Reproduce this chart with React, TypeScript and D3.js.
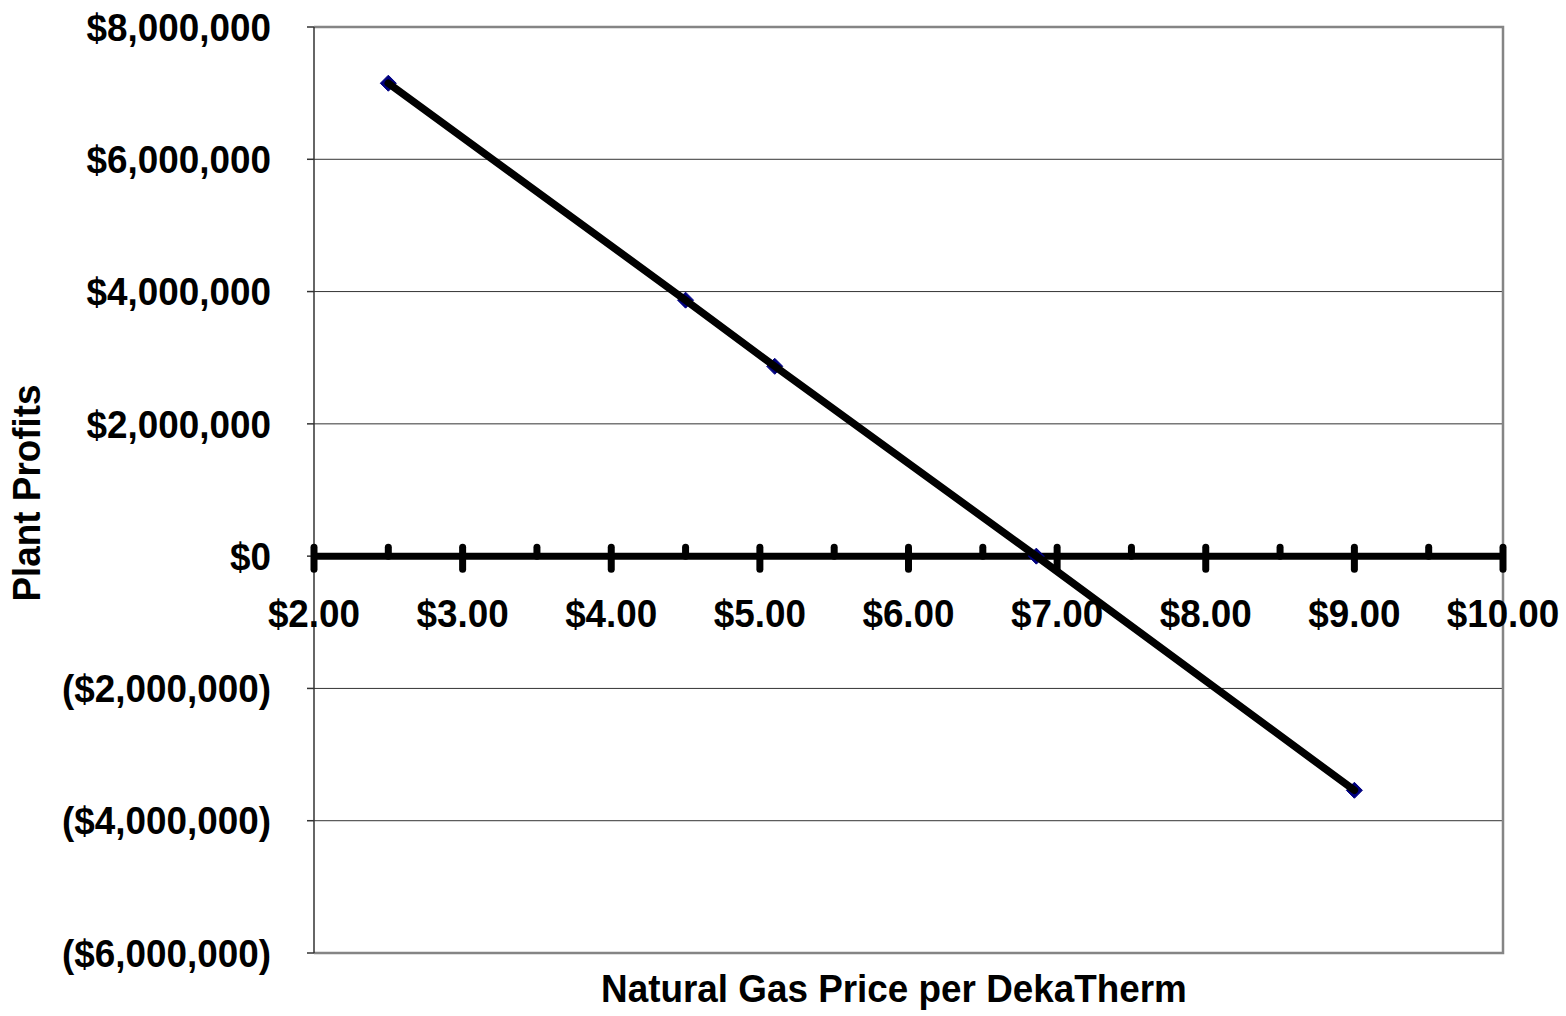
import React from "react";
import * as d3 from "d3";

const gasPrices = [2.5, 4.5, 5.1, 6.86, 9.0];
const plantProfits = [7150000, 3870000, 2870000, 0, -3540000];
const yTickValues = [-6000000, -4000000, -2000000, 0, 2000000, 4000000, 6000000, 8000000];
const xMajorTicks = [2, 3, 4, 5, 6, 7, 8, 9, 10];
const xMinorTicks = [2.5, 3.5, 4.5, 5.5, 6.5, 7.5, 8.5, 9.5];
const xTitle = "Natural Gas Price per DekaTherm";
const yTitle = "Plant Profits";

const W = 1566;
const H = 1016;
const L = 314, R = 1503, T = 27, B = 953;
const FONT = "'Liberation Sans', Arial, sans-serif";
const FS = 38;

const fmtMoney = (v: number) => {
  const s = "$" + d3.format(",")(Math.abs(v));
  return v < 0 ? "(" + s + ")" : s;
};

export default function App() {
  const x = d3.scaleLinear().domain([2, 10]).range([L, R]);
  const y = d3.scaleLinear().domain([-6000000, 8000000]).range([B, T]);
  const pts = gasPrices.map((g, i) => [x(g), y(plantProfits[i])] as [number, number]);
  const line = d3.line()(pts) || "";
  const y0 = y(0);
  const m = 8;

  return (
    <div style={{ position: "absolute", left: 0, top: 0 }}>
      <svg width={W} height={H} style={{ display: "block", background: "#fff" }}>
        {yTickValues.filter(v => v !== 0 && v !== -6000000).map(v => (
          <line key={"g" + v} x1={L} x2={R} y1={y(v)} y2={y(v)} stroke="#333" strokeWidth={1} />
        ))}
        <path d={`M${L},${T}H${R}V${B}H${L}`} fill="none" stroke="#858585" strokeWidth={2.5} />
        <line x1={L} x2={L} y1={T} y2={B} stroke="#333" strokeWidth={1.5} />
        {yTickValues.map(v => (
          <g key={"yt" + v}>
            <line x1={L - 7} x2={L} y1={y(v)} y2={y(v)} stroke="#333" strokeWidth={1.5} />
            <text x={271} y={y(v)} dy="0.36em" textAnchor="end" fontFamily={FONT} fontWeight="bold" fontSize={FS} fill="#000"
              transform={`translate(271,0) scale(0.97,1) translate(-271,0)`}>
              {fmtMoney(v)}
            </text>
          </g>
        ))}
        <line x1={L} x2={R} y1={y0} y2={y0} stroke="#000" strokeWidth={7} />
        {xMajorTicks.map(t => (
          <line key={"xm" + t} x1={x(t)} x2={x(t)} y1={y0 - 9} y2={y0 + 13} stroke="#000" strokeWidth={7} strokeLinecap="round" />
        ))}
        {xMinorTicks.map(t => (
          <line key={"xn" + t} x1={x(t)} x2={x(t)} y1={y0 - 9} y2={y0} stroke="#000" strokeWidth={7} strokeLinecap="round" />
        ))}
        {xMajorTicks.map(t => (
          <text key={"xl" + t} x={x(t)} y={627} textAnchor="middle" fontFamily={FONT} fontWeight="bold" fontSize={FS} fill="#000"
            transform={`translate(${x(t)},0) scale(0.97,1) translate(${-x(t)},0)`}>
            {"$" + d3.format(".2f")(t)}
          </text>
        ))}
        {pts.map(([px, py], i) => (
          <path key={"m" + i} d={`M${px},${py - m}L${px + m},${py}L${px},${py + m}L${px - m},${py}Z`} fill="#000080" stroke="#000080" strokeWidth={1} />
        ))}
        <path d={line} fill="none" stroke="#000" strokeWidth={7.5} strokeLinecap="round" strokeLinejoin="round" />
        <text x={894} y={1002} textAnchor="middle" fontFamily={FONT} fontWeight="bold" fontSize={FS} fill="#000"
          transform={`translate(894,0) scale(0.97,1) translate(-894,0)`}>{xTitle}</text>
        <text transform="translate(40,493) rotate(-90) scale(0.97,1)" textAnchor="middle" fontFamily={FONT} fontWeight="bold" fontSize={FS} fill="#000">{yTitle}</text>
      </svg>
    </div>
  );
}
